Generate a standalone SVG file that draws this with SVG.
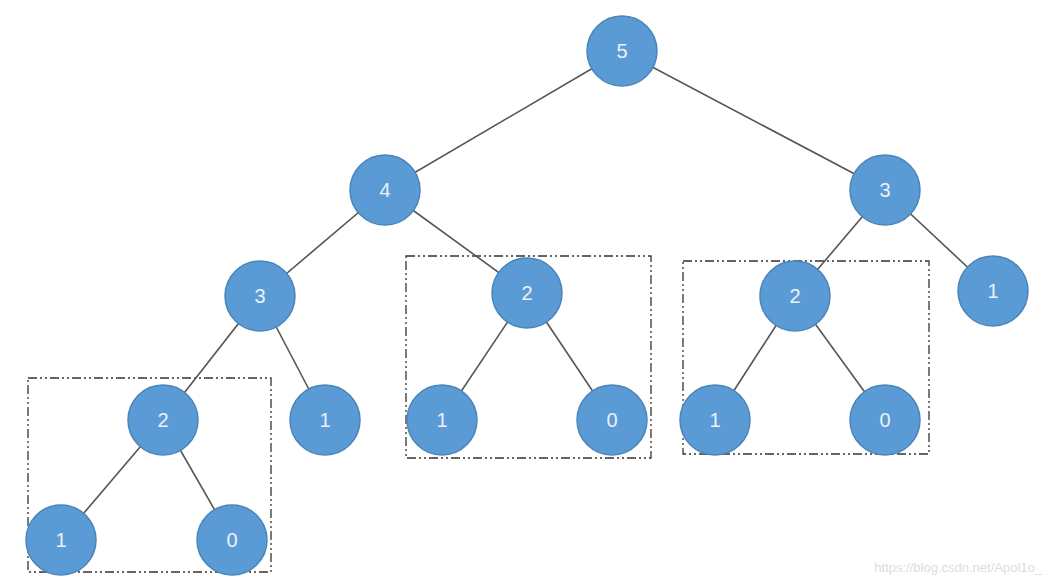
<svg xmlns="http://www.w3.org/2000/svg" width="1051" height="584" viewBox="0 0 1051 584">
<style>
.n circle{fill:#5B9BD5;stroke:#4A85BA;stroke-width:1.5}
.n text{fill:#EAF2FA;font-family:"Liberation Sans",Arial,sans-serif;font-size:20px;text-anchor:middle;dominant-baseline:central}
.e line{stroke:#555;stroke-width:1.6}
.box{fill:none;stroke:#333;stroke-width:1.3;stroke-dasharray:9 3 2 3 2 3}
</style>
<rect width="1051" height="584" fill="#fff"/>
<g id="boxes">
<rect class="box" x="28" y="378" width="243" height="194"/>
<rect class="box" x="406" y="256" width="245" height="202"/>
<rect class="box" x="683" y="261" width="246" height="193"/>
</g>
<g id="connectors" class="e">
<line x1="622" y1="51" x2="385" y2="190"/>
<line x1="622" y1="51" x2="885" y2="190"/>
<line x1="385" y1="190" x2="260" y2="296"/>
<line x1="385" y1="190" x2="527" y2="293"/>
<line x1="885" y1="190" x2="795" y2="296"/>
<line x1="885" y1="190" x2="993" y2="291"/>
<line x1="260" y1="296" x2="163" y2="420"/>
<line x1="260" y1="296" x2="325" y2="420"/>
<line x1="527" y1="293" x2="442" y2="420"/>
<line x1="527" y1="293" x2="612" y2="420"/>
<line x1="795" y1="296" x2="715" y2="420"/>
<line x1="795" y1="296" x2="885" y2="420"/>
<line x1="163" y1="420" x2="61" y2="540"/>
<line x1="163" y1="420" x2="232" y2="540"/>
</g>
<g id="n5" class="n"><circle cx="622" cy="51" r="35"/><text x="622" y="51">5</text></g>
<g id="n4" class="n"><circle cx="385" cy="190" r="35"/><text x="385" y="190">4</text></g>
<g id="n3r" class="n"><circle cx="885" cy="190" r="35"/><text x="885" y="190">3</text></g>
<g id="n3l" class="n"><circle cx="260" cy="296" r="35"/><text x="260" y="296">3</text></g>
<g id="n2m" class="n"><circle cx="527" cy="293" r="35"/><text x="527" y="293">2</text></g>
<g id="n2r" class="n"><circle cx="795" cy="296" r="35"/><text x="795" y="296">2</text></g>
<g id="n1fr" class="n"><circle cx="993" cy="291" r="35"/><text x="993" y="291">1</text></g>
<g id="n2l" class="n"><circle cx="163" cy="420" r="35"/><text x="163" y="420">2</text></g>
<g id="n1a" class="n"><circle cx="325" cy="420" r="35"/><text x="325" y="420">1</text></g>
<g id="n1m" class="n"><circle cx="442" cy="420" r="35"/><text x="442" y="420">1</text></g>
<g id="n0m" class="n"><circle cx="612" cy="420" r="35"/><text x="612" y="420">0</text></g>
<g id="n1r" class="n"><circle cx="715" cy="420" r="35"/><text x="715" y="420">1</text></g>
<g id="n0r" class="n"><circle cx="885" cy="420" r="35"/><text x="885" y="420">0</text></g>
<g id="n1l" class="n"><circle cx="61" cy="540" r="35"/><text x="61" y="540">1</text></g>
<g id="n0l" class="n"><circle cx="232" cy="540" r="35"/><text x="232" y="540">0</text></g>
<text x="1042" y="572" text-anchor="end" font-family="'Liberation Sans',Arial,sans-serif" font-size="13" fill="#ddd">https://blog.csdn.net/Apol1o_</text>
</svg>
